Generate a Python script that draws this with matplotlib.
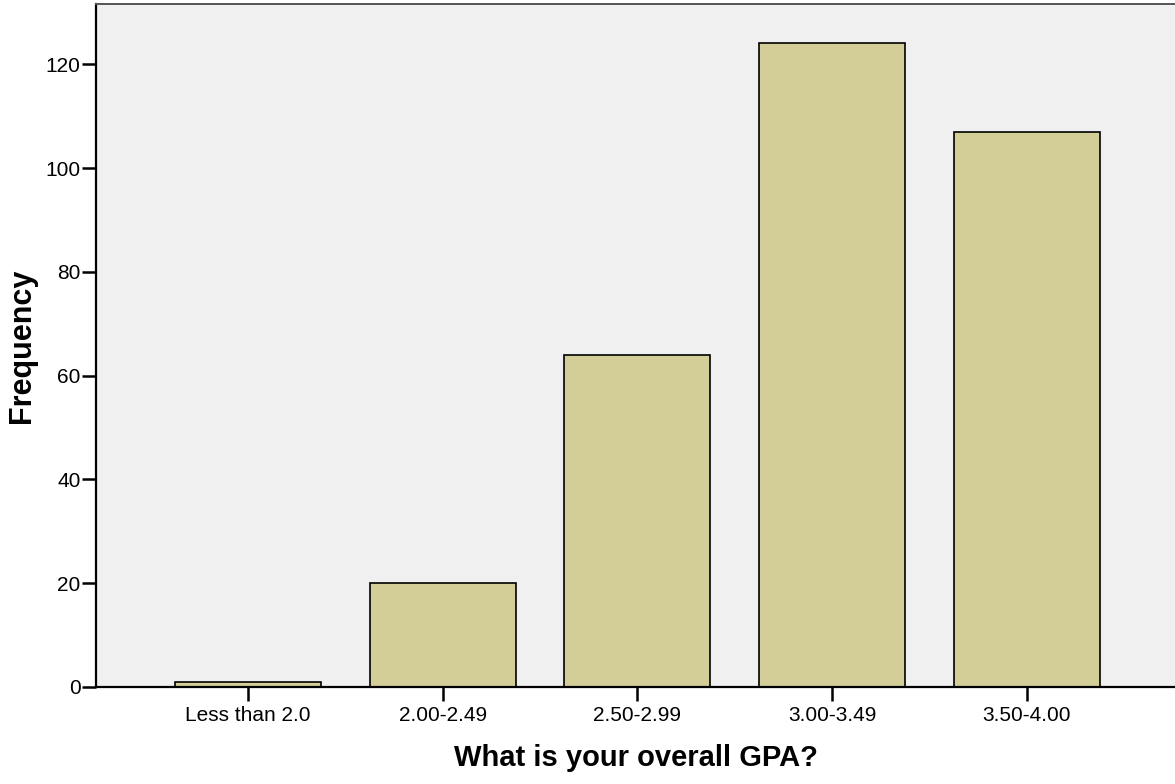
import matplotlib
matplotlib.use("Agg")
import matplotlib.pyplot as plt

categories = ["Less than 2.0", "2.00-2.49", "2.50-2.99", "3.00-3.49", "3.50-4.00"]
frequency = [1, 20, 64, 124, 107]
y_ticks = [0, 20, 40, 60, 80, 100, 120]

plt.rcParams['font.family'] = ['Liberation Sans', 'DejaVu Sans']

fig = plt.figure(figsize=(11.75, 7.84), dpi=100)
ax = fig.add_axes([96/1175, 1 - 687/784, 1 - 96/1175, (687 - 4)/784])
ax.set_facecolor('#F0F0F0')

x = list(range(len(categories)))
ax.bar(x, frequency, width=0.75, color='#D3CE97', edgecolor='black', linewidth=1.2, zorder=2)

ax.set_xlim(-0.78, 4.76)
ax.set_ylim(0, 131.6)
ax.set_xticks(x)
ax.set_xticklabels(categories, fontsize=15)
ax.set_yticks(y_ticks)
ax.set_yticklabels([str(v) for v in y_ticks], fontsize=15)

ax.tick_params(axis='both', direction='out', length=10, width=1.8, color='black')
ax.tick_params(axis='y', pad=1)
ax.tick_params(axis='x', pad=4)

for s in ['left', 'bottom']:
    ax.spines[s].set_linewidth(1.6)
    ax.spines[s].set_color('black')
ax.spines['top'].set_color('#555555')
ax.spines['top'].set_linewidth(1.4)
ax.spines['right'].set_visible(False)

ax.set_xlabel("What is your overall GPA?", fontsize=21, fontweight='bold', labelpad=13)
ax.set_ylabel("Frequency", fontsize=22, fontweight='bold', labelpad=6)

fig.savefig("out.png", dpi=100)
